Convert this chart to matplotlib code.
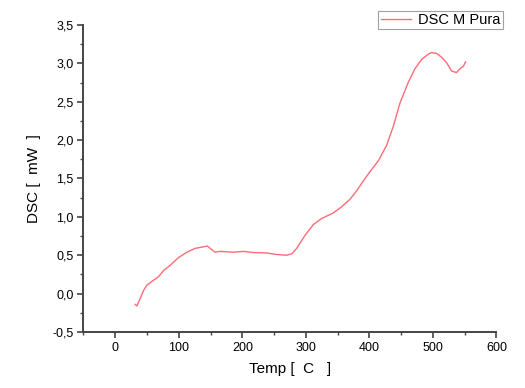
import matplotlib
matplotlib.use("Agg")
import matplotlib.pyplot as plt
from matplotlib.ticker import MultipleLocator, FuncFormatter

temp = [31.4, 34, 39.3, 44.6, 49.8, 57.7, 68, 76, 86.5, 99.6, 112.7, 125.8, 139, 145,
        149.4, 157, 165, 186, 202, 217.5, 238.5, 254, 270, 278, 285.6, 298.7, 311.8,
        325, 343, 356, 369.5, 380, 390.5, 401, 414, 427, 437.6, 448, 461, 471.7, 482,
        492.6, 497.8, 505.7, 513.6, 521.4, 529.3, 537, 542.5, 547.7, 551.4]
dsc = [-0.14, -0.16, -0.065, 0.043, 0.11, 0.16, 0.22, 0.30, 0.37, 0.47, 0.54, 0.59, 0.61, 0.62,
       0.59, 0.54, 0.55, 0.54, 0.55, 0.535, 0.53, 0.51, 0.50, 0.52, 0.59, 0.76, 0.90,
       0.98, 1.05, 1.13, 1.23, 1.34, 1.47, 1.59, 1.73, 1.93, 2.18, 2.48, 2.75, 2.93, 3.05,
       3.12, 3.14, 3.13, 3.08, 3.01, 2.90, 2.88, 2.93, 2.96, 3.02]

plt.rcParams['font.family'] = ['Liberation Sans', 'DejaVu Sans']

fig = plt.figure(figsize=(5.25, 3.88), dpi=100)
ax = fig.add_axes([0.159, 0.1443, 0.7867, 0.7913])
ax.plot(temp, dsc, color='#ff6b78', lw=1.0, label='DSC M Pura')

ax.set_xlim(-50, 600)
ax.set_ylim(-0.5, 3.5)
ax.xaxis.set_major_locator(MultipleLocator(100))
ax.xaxis.set_minor_locator(MultipleLocator(50))
ax.yaxis.set_major_locator(MultipleLocator(0.5))
ax.yaxis.set_minor_locator(MultipleLocator(0.25))
ax.yaxis.set_major_formatter(FuncFormatter(lambda v, p: f"{v:.1f}".replace('.', ',')))
ax.xaxis.set_major_formatter(FuncFormatter(lambda v, p: f"{v:.0f}"))

for s in ['top', 'right']:
    ax.spines[s].set_visible(False)
for s in ['left', 'bottom']:
    ax.spines[s].set_color('#444444')
    ax.spines[s].set_linewidth(1.4)
ax.tick_params(which='major', direction='out', length=4, width=1.2, color='#444444',
               labelsize=9, pad=3)
ax.tick_params(which='minor', direction='out', length=2.5, width=1.0, color='#444444')

ax.set_xlabel('Temp [  C   ]', fontsize=11, labelpad=6)
ax.set_ylabel('DSC [  mW  ]', fontsize=11, labelpad=8)

leg = ax.legend(loc='upper right', bbox_to_anchor=(503 / 525, 1 - 11 / 388),
                bbox_transform=fig.transFigure, borderaxespad=0,
                fontsize=10.5, frameon=True, fancybox=False, edgecolor='#888888',
                handlelength=2.1, borderpad=0.15, handletextpad=0.5)
leg.get_frame().set_linewidth(0.8)

fig.savefig('out.png', dpi=100)
